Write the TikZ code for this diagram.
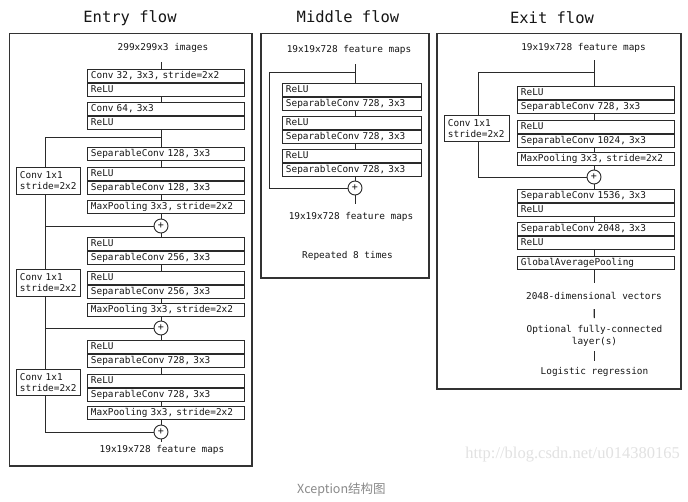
\documentclass[tikz,border=0pt]{standalone}
\usepackage{fontspec}
\setmainfont{DejaVu Sans Mono}
\newfontfamily\wmfont{Liberation Serif}
\newfontfamily\cjkfont{Noto Sans CJK SC}
\newcommand{\boxfont}{\fontsize{9.4}{11}\selectfont}
\definecolor{textc}{HTML}{161616}
\definecolor{linec}{HTML}{2A2A2A}
\definecolor{framec}{HTML}{333333}
\definecolor{wmc}{HTML}{E2E2E2}
\definecolor{capc}{HTML}{8A8A8A}
\begin{document}
\begin{tikzpicture}[x=1pt,y=-1pt,
  conn/.style={draw=linec, line width=0.9pt},
  frame/.style={draw=framec, line width=1.1pt},
  rowE/.style={draw=linec, line width=0.9pt, rectangle, anchor=north west, text width=150pt, inner xsep=3.5pt, inner ysep=0pt, minimum height=13pt, text height=7pt, text depth=2pt, align=left, font=\boxfont, text=textc},
  rowM/.style={rowE, text width=132pt},
  convbox/.style={draw=linec, line width=0.9pt, rectangle, anchor=north west, text width=57pt, inner xsep=3.5pt, inner ysep=2pt, minimum height=27pt, align=left, font=\boxfont, text=textc},
  addc/.style={circle, draw=linec, line width=0.9pt, fill=white, minimum size=14pt, inner sep=0pt, font=\fontsize{10}{10}\selectfont, text=textc},
  lbl/.style={font=\boxfont, text=textc, inner sep=1pt, text height=7pt, text depth=2pt},
  lblm/.style={font=\fontsize{9.4}{12}\selectfont, text=textc, inner sep=1pt, align=center},
  ttl/.style={font=\fontsize{15.5}{16}\selectfont, text=textc}
]
\useasboundingbox (0,0) rectangle (688,501);
\fill[white] (0,0) rectangle (688,501);

% ---------------- titles and frames ----------------
\node[ttl] (tE) at (130,18) {Entry flow};
\node[ttl] (tM) at (348,17) {Middle flow};
\node[ttl] (tX) at (552,18) {Exit flow};
\draw[frame] (9.5,33.5) rectangle (252,466);
\draw[frame] (261,33.5) rectangle (429,278);
\draw[frame] (437,33.5) rectangle (681,389);

% ---------------- Entry flow ----------------
\coordinate (ex) at (161,0);
\coordinate (elx) at (45,0);
\node[lbl] (ein) at (163,48) {299x299x3 images};
\coordinate (ein0) at (161,62);
\node[rowE] (e1a) at (87,69) {Conv 32, 3x3, stride=2x2};
\node[rowE] (e1b) at (e1a.south west) {ReLU};
\node[rowE] (e2a) at (87,102) {Conv 64, 3x3};
\node[rowE] (e2b) at (e2a.south west) {ReLU};
\node[rowE, minimum height=12.5pt] (e3) at (87,147) {SeparableConv 128, 3x3};
\node[rowE] (e4a) at (87,167) {ReLU};
\node[rowE] (e4b) at (e4a.south west) {SeparableConv 128, 3x3};
\node[rowE] (e5) at (87,200) {MaxPooling 3x3, stride=2x2};
\node[addc] (add1) at (161,226) {+};
\node[rowE] (e6a) at (87,237) {ReLU};
\node[rowE] (e6b) at (e6a.south west) {SeparableConv 256, 3x3};
\node[rowE] (e7a) at (87,271) {ReLU};
\node[rowE] (e7b) at (e7a.south west) {SeparableConv 256, 3x3};
\node[rowE] (e8) at (87,303) {MaxPooling 3x3, stride=2x2};
\node[addc] (add2) at (161,328) {+};
\node[rowE] (e9a) at (87,340) {ReLU};
\node[rowE] (e9b) at (e9a.south west) {SeparableConv 728, 3x3};
\node[rowE] (e10a) at (87,374) {ReLU};
\node[rowE] (e10b) at (e10a.south west) {SeparableConv 728, 3x3};
\node[rowE, minimum height=12.5pt] (e11) at (87,406) {MaxPooling 3x3, stride=2x2};
\node[addc] (add3) at (161,432) {+};
\coordinate (eout0) at (161,442);
\node[lbl] (eout) at (162,450) {19x19x728 feature maps};
\node[convbox] (c1) at (16,167) {Conv 1x1\\stride=2x2};
\node[convbox] (c2) at (16,269) {Conv 1x1\\stride=2x2};
\node[convbox, minimum height=26pt] (c3) at (16,369) {Conv 1x1\\stride=2x2};
\coordinate (eb1) at (161,137);

\draw[conn] (ein0) -- (e1a.north -| ex);
\draw[conn] (e1b.south -| ex) -- (e2a.north -| ex);
\draw[conn] (e2b.south -| ex) -- (e3.north -| ex);
\draw[conn] (e3.south -| ex) -- (e4a.north -| ex);
\draw[conn] (e4b.south -| ex) -- (e5.north -| ex);
\draw[conn] (e5.south -| ex) -- (add1);
\draw[conn] (add1) -- (e6a.north -| ex);
\draw[conn] (e6b.south -| ex) -- (e7a.north -| ex);
\draw[conn] (e7b.south -| ex) -- (e8.north -| ex);
\draw[conn] (e8.south -| ex) -- (add2);
\draw[conn] (add2) -- (e9a.north -| ex);
\draw[conn] (e9b.south -| ex) -- (e10a.north -| ex);
\draw[conn] (e10b.south -| ex) -- (e11.north -| ex);
\draw[conn] (e11.south -| ex) -- (add3);
\draw[conn] (add3) -- (eout0);
\draw[conn] (eb1) -| (c1.north -| elx);
\draw[conn] (c1.south -| elx) |- (add1);
\draw[conn] (add1 -| elx) -- (c2.north -| elx);
\draw[conn] (c2.south -| elx) |- (add2);
\draw[conn] (add2 -| elx) -- (c3.north -| elx);
\draw[conn] (c3.south -| elx) |- (add3);

% ---------------- Middle flow ----------------
\coordinate (mx) at (355,0);
\coordinate (mlx) at (269,0);
\node[lbl] (min) at (349,50) {19x19x728 feature maps};
\coordinate (min0) at (355,64);
\coordinate (mb) at (355,72);
\node[rowM] (m1a) at (282,83) {ReLU};
\node[rowM] (m1b) at (m1a.south west) {SeparableConv 728, 3x3};
\node[rowM] (m2a) at (282,116) {ReLU};
\node[rowM] (m2b) at (m2a.south west) {SeparableConv 728, 3x3};
\node[rowM] (m3a) at (282,149) {ReLU};
\node[rowM] (m3b) at (m3a.south west) {SeparableConv 728, 3x3};
\node[addc] (addM) at (355,188) {+};
\coordinate (mout0) at (355,204);
\node[lbl] (mout) at (351,217) {19x19x728 feature maps};
\node[lbl] (rep) at (347.5,256) {Repeated 8 times};

\draw[conn] (min0) -- (m1a.north -| mx);
\draw[conn] (m1b.south -| mx) -- (m2a.north -| mx);
\draw[conn] (m2b.south -| mx) -- (m3a.north -| mx);
\draw[conn] (m3b.south -| mx) -- (addM);
\draw[conn] (addM) -- (mout0);
\draw[conn] (mb) -| (mlx |- addM) -- (addM);

% ---------------- Exit flow ----------------
\coordinate (xx) at (594,0);
\coordinate (xlx) at (478,0);
\node[lbl] (xin) at (583.5,48) {19x19x728 feature maps};
\coordinate (xin0) at (594,60);
\coordinate (xb) at (594,72);
\node[rowE] (x1a) at (517,86) {ReLU};
\node[rowE] (x1b) at (x1a.south west) {SeparableConv 728, 3x3};
\node[rowE] (x2a) at (517,120) {ReLU};
\node[rowE] (x2b) at (x2a.south west) {SeparableConv 1024, 3x3};
\node[rowE, minimum height=12.5pt] (x3) at (517,152) {MaxPooling 3x3, stride=2x2};
\node[addc] (addX) at (594,177) {+};
\node[rowE] (x4a) at (517,189) {SeparableConv 1536, 3x3};
\node[rowE] (x4b) at (x4a.south west) {ReLU};
\node[rowE] (x5a) at (517,222) {SeparableConv 2048, 3x3};
\node[rowE] (x5b) at (x5a.south west) {ReLU};
\node[rowE] (x6) at (517,256) {GlobalAveragePooling};
\coordinate (xg0) at (594,283);
\node[lbl] (vec) at (594,297) {2048-dimensional vectors};
\node[lblm] (opt) at (594.5,336) {Optional fully-connected\\layer(s)};
\node[lbl] (logit) at (594.5,372) {Logistic regression};
\node[convbox, text width=58pt, minimum height=26pt] (cx) at (444,115) {Conv 1x1\\stride=2x2};

\draw[conn] (xin0) -- (x1a.north -| xx);
\draw[conn] (x1b.south -| xx) -- (x2a.north -| xx);
\draw[conn] (x2b.south -| xx) -- (x3.north -| xx);
\draw[conn] (x3.south -| xx) -- (addX);
\draw[conn] (addX) -- (x4a.north -| xx);
\draw[conn] (x4b.south -| xx) -- (x5a.north -| xx);
\draw[conn] (x5b.south -| xx) -- (x6.north -| xx);
\draw[conn] (x6.south -| xx) -- (xg0);
\draw[conn] (xb) -| (cx.north -| xlx);
\draw[conn] (cx.south -| xlx) |- (addX);
\draw[conn, line width=1.2pt, shorten <=6.5pt, shorten >=6pt] (vec.south) -- (opt.north);
\draw[conn, line width=1.2pt, shorten <=3.5pt, shorten >=5pt] (opt.south) -- (logit.north);

% ---------------- watermark and caption ----------------
\node[font=\wmfont\fontsize{16.5}{17}\selectfont, text=wmc, anchor=east, inner sep=0pt] (wm) at (680,455) {http://blog.csdn.net/u014380165};
\node[font=\cjkfont\fontsize{12.5}{14}\selectfont, text=capc, anchor=west, inner sep=0pt] (cap) at (297,490) {Xception结构图};
\end{tikzpicture}
\end{document}
